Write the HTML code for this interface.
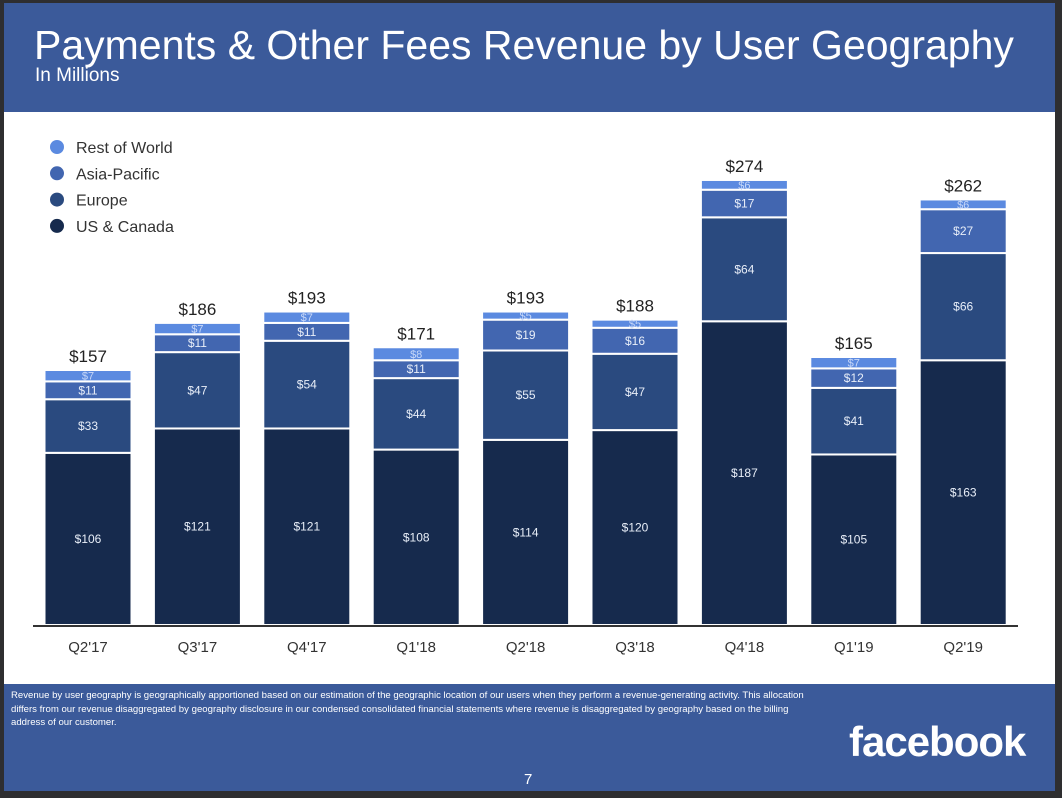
<!DOCTYPE html>
<html><head><meta charset="utf-8"><style>
body{margin:0;width:1062px;height:798px;background:#2e2e30;overflow:hidden;font-family:"Liberation Sans",sans-serif}
#slide{position:absolute;left:4px;top:3px;width:1051px;height:788px;background:#fff}
#hdr{position:absolute;left:0;top:0;width:1051px;height:109px;background:#3b5a9a;color:#fff}
#ftr{position:absolute;left:0;top:681px;width:1051px;height:107px;background:#3b5a9a;color:#fff}
</style></head><body>
<div id="slide">
<div id="hdr">
<div style="position:absolute;left:30px;top:19px;font-size:41px;white-space:nowrap">Payments &amp; Other Fees Revenue by User Geography</div>
<div style="position:absolute;left:31px;top:62px;font-size:19px">In Millions</div>
</div>
<div id="ftr">
<div style="position:absolute;left:7px;top:5px;width:810px;font-size:9.6px;line-height:13.5px">Revenue by user geography is geographically apportioned based on our estimation of the geographic location of our users when they perform a revenue-generating activity. This allocation differs from our revenue disaggregated by geography disclosure in our condensed consolidated financial statements where revenue is disaggregated by geography based on the billing address of our customer.</div>
<div style="position:absolute;left:845px;top:34px;font-size:42px;font-weight:bold;letter-spacing:-1px">facebook</div>
<div style="position:absolute;left:520px;top:87px;font-size:15px">7</div>
</div>
</div>
<svg id="chart" width="1062" height="798" style="position:absolute;left:0;top:0"></svg>
<script>
const categories=["Q2'17","Q3'17","Q4'17","Q1'18","Q2'18","Q3'18","Q4'18","Q1'19","Q2'19"];
const usCanada=[106,121,121,108,114,120,187,105,163];
const europe=[33,47,54,44,55,47,64,41,66];
const asiaPacific=[11,11,11,11,19,16,17,12,27];
const restOfWorld=[7,7,7,8,5,5,6,7,6];
const totals=[157,186,193,171,193,188,274,165,262];
const seriesNames=["US & Canada","Europe","Asia-Pacific","Rest of World"];
const colors=["#162a4d","#2a4a7f","#4266b0","#5b8ae0"];
const NS="http://www.w3.org/2000/svg";
const svg=document.getElementById('chart');
const base=625, k=255/157;
const y=v=>base-v*k;
const x=i=>88+i*109.4;
const bw=87;
function mk(t,a){const e=document.createElementNS(NS,t);for(const n in a)e.setAttribute(n,a[n]);svg.appendChild(e);return e;}
const series=[usCanada,europe,asiaPacific,restOfWorld];
categories.forEach((c,i)=>{
  let acc=0;
  series.forEach((s,j)=>{
    const v=s[i];
    const r=mk('rect',{x:x(i)-bw/2,y:y(acc+v),width:bw,height:v*k,fill:colors[j],stroke:'#fff','stroke-width':2});
    
    
    const t=mk('text',{x:x(i),y:y(acc+v/2)+4,'text-anchor':'middle','font-size':v<9?11:12,fill:j==3?'#c8d8f8':'#e8eef8','font-family':'Liberation Sans'});
    t.textContent='$'+v;
    
    
    acc+=v;
  });
  const tt=mk('text',{x:x(i),y:y(totals[i])-8,'text-anchor':'middle','font-size':17,fill:'#222','font-family':'Liberation Sans'});
  tt.textContent='$'+totals[i];
  
  
  const cl=mk('text',{x:x(i),y:652,'text-anchor':'middle','font-size':15,fill:'#333','font-family':'Liberation Sans'});
  cl.textContent=c;
  
  
});
const ax=mk('line',{x1:33,x2:1018,y1:base+1,y2:base+1,stroke:'#333','stroke-width':2});


[3,2,1,0].forEach((j,n)=>{
  const cy=147+n*26.3;
  const d=mk('circle',{cx:57,cy:cy,r:7,fill:colors[j]});
  
  
  const t=mk('text',{x:76,y:cy+6,'font-size':16,fill:'#333','font-family':'Liberation Sans'});
  t.textContent=seriesNames[j];
  
  
});
</script>
</body></html>
